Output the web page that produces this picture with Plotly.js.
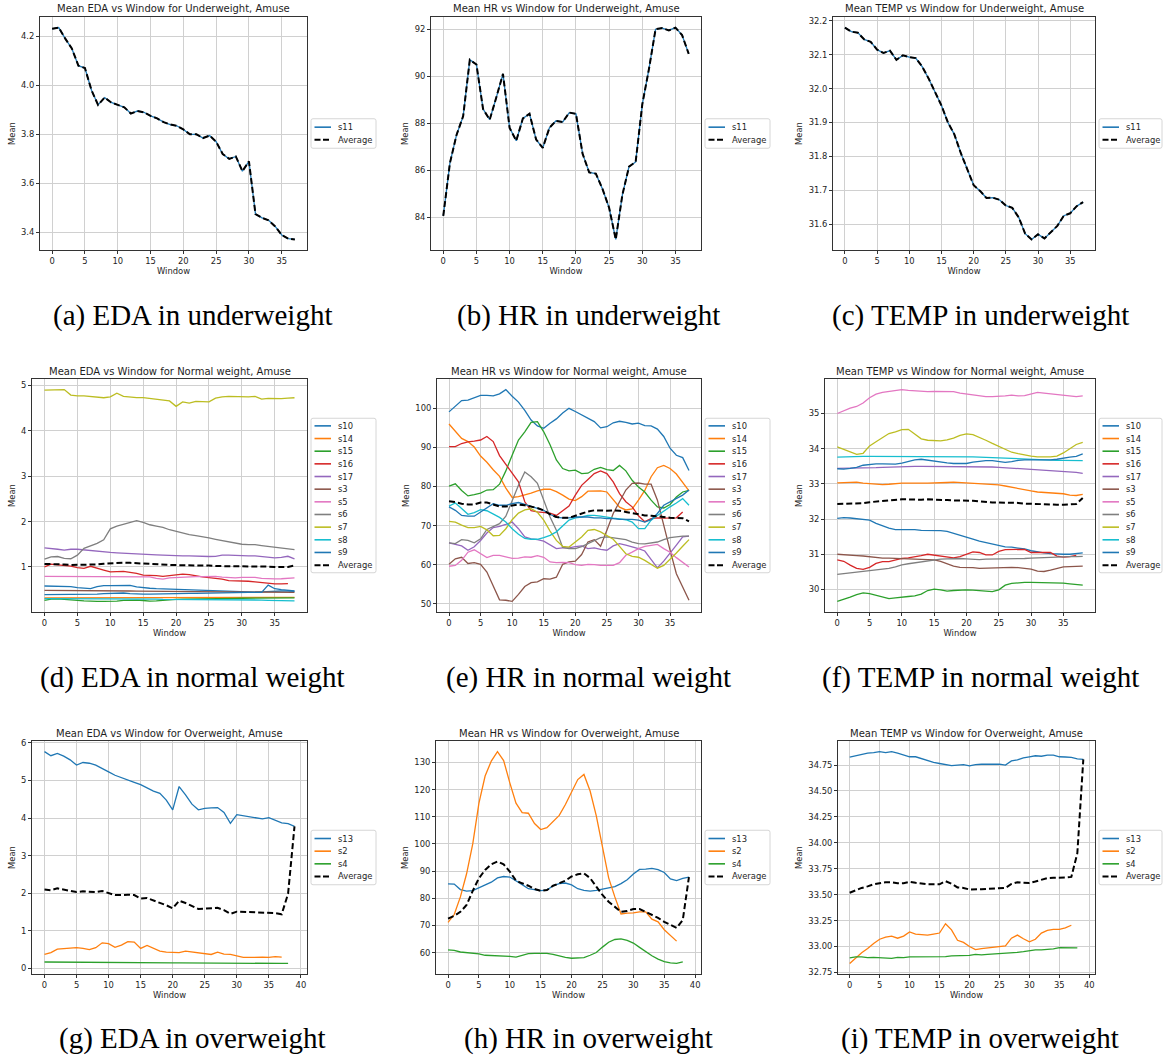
<!DOCTYPE html>
<html>
<head>
<meta charset="utf-8">
<script src="https://cdn.plot.ly/plotly-3.0.1.min.js"></script>
<style>
  html, body { margin: 0; padding: 0; background: #ffffff; }
  #chart { width: 1163px; height: 1056px; }
</style>
</head>
<body>
<div id="chart"></div>
<script>
// ---------- Underweight (Amuse) ----------
const uwEdaS11 = [4.23,4.235,4.19,4.15,4.08,4.07,3.98,3.92,3.95,3.93,3.92,3.91,3.885,3.895,3.89,3.875,3.865,3.85,3.84,3.835,3.82,3.80,3.80,3.785,3.795,3.77,3.72,3.70,3.71,3.65,3.69,3.475,3.46,3.45,3.425,3.39,3.375,3.372];
const uwEdaAvg = [4.23,4.235,4.19,4.15,4.08,4.07,3.98,3.92,3.95,3.93,3.92,3.91,3.885,3.895,3.89,3.875,3.865,3.85,3.84,3.835,3.82,3.80,3.80,3.785,3.795,3.77,3.72,3.70,3.71,3.65,3.69,3.475,3.46,3.45,3.425,3.39,3.375,3.372];

const uwHrS11 = [84.05,86.3,87.5,88.3,90.7,90.5,88.6,88.15,89.1,90.1,87.8,87.25,88.2,88.4,87.3,86.95,87.8,88.1,88.05,88.45,88.4,86.7,85.9,85.85,85.2,84.4,83.05,84.95,86.15,86.35,88.8,90.3,92.0,92.05,91.95,92.07,91.75,90.95];
const uwHrAvg = [84.05,86.3,87.5,88.3,90.7,90.5,88.6,88.15,89.1,90.1,87.8,87.25,88.2,88.4,87.3,86.95,87.8,88.1,88.05,88.45,88.4,86.7,85.9,85.85,85.2,84.4,83.05,84.95,86.15,86.35,88.8,90.3,92.0,92.05,91.95,92.07,91.75,90.95];

const uwTempS11 = [32.18,32.168,32.165,32.145,32.138,32.115,32.105,32.112,32.085,32.098,32.093,32.09,32.065,32.03,31.99,31.95,31.90,31.865,31.81,31.76,31.715,31.698,31.677,31.678,31.672,31.655,31.648,31.62,31.572,31.555,31.57,31.558,31.578,31.595,31.625,31.632,31.653,31.665];
const uwTempAvg = [32.18,32.168,32.165,32.145,32.138,32.115,32.105,32.112,32.085,32.098,32.093,32.09,32.065,32.03,31.99,31.95,31.90,31.865,31.81,31.76,31.715,31.698,31.677,31.678,31.672,31.655,31.648,31.62,31.572,31.555,31.57,31.558,31.578,31.595,31.625,31.632,31.653,31.665];

// ---------- Normal weight (Amuse): EDA ----------
const nwEdaS10 = [0.58,0.575,0.58,0.575,0.565,0.545,0.54,0.52,0.565,0.59,0.59,0.59,0.59,0.595,0.56,0.54,0.53,0.52,0.515,0.51,0.50,0.49,0.485,0.485,0.48,0.47,0.465,0.465,0.455,0.45,0.45,0.445,0.445,0.45,0.46,0.47,0.47,0.465,0.46];
const nwEdaS14 = [0.32,0.32,0.321,0.32,0.32,0.321,0.322,0.322,0.321,0.32,0.32,0.321,0.322,0.323,0.323,0.322,0.322,0.323,0.324,0.324,0.325,0.325,0.325,0.326,0.326,0.326,0.327,0.327,0.327,0.328,0.328,0.328,0.329,0.329,0.33,0.33,0.33,0.33,0.33];
const nwEdaS15 = [0.265,0.29,0.295,0.29,0.285,0.265,0.25,0.24,0.24,0.24,0.24,0.245,0.265,0.27,0.27,0.26,0.245,0.25,0.265,0.28,0.285,0.29,0.29,0.295,0.295,0.30,0.30,0.30,0.305,0.305,0.31,0.31,0.31,0.315,0.315,0.32,0.32,0.32,0.32];
const nwEdaS16 = [1.0,1.06,1.045,1.03,1.02,0.985,0.97,1.015,0.98,0.93,0.89,0.89,0.90,0.88,0.86,0.82,0.82,0.81,0.79,0.81,0.825,0.84,0.83,0.80,0.78,0.765,0.75,0.73,0.70,0.70,0.69,0.685,0.67,0.65,0.63,0.625,0.625,0.63];
const nwEdaS17 = [1.42,1.41,1.39,1.37,1.39,1.39,1.375,1.35,1.34,1.32,1.32,1.31,1.30,1.29,1.29,1.28,1.27,1.265,1.26,1.25,1.25,1.245,1.245,1.235,1.235,1.23,1.235,1.26,1.26,1.25,1.25,1.245,1.245,1.23,1.21,1.20,1.21,1.235,1.18];
const nwEdaS3  = [0.485,0.485,0.484,0.483,0.482,0.48,0.479,0.478,0.477,0.476,0.475,0.474,0.471,0.47,0.468,0.467,0.466,0.464,0.463,0.462,0.461,0.46,0.459,0.458,0.457,0.456,0.455,0.454,0.452,0.451,0.45,0.449,0.448,0.447,0.446,0.445,0.444,0.442,0.44];
const nwEdaS5  = [0.79,0.79,0.78,0.78,0.78,0.79,0.785,0.785,0.785,0.785,0.785,0.785,0.785,0.785,0.78,0.78,0.78,0.75,0.73,0.76,0.77,0.78,0.79,0.785,0.785,0.79,0.79,0.775,0.76,0.76,0.77,0.77,0.77,0.75,0.735,0.735,0.74,0.75,0.76];
const nwEdaS6  = [1.17,1.22,1.23,1.19,1.18,1.26,1.41,1.46,1.52,1.60,1.84,1.90,1.94,1.98,2.02,1.98,1.93,1.90,1.87,1.82,1.78,1.74,1.71,1.69,1.67,1.64,1.61,1.58,1.55,1.53,1.50,1.49,1.49,1.47,1.45,1.43,1.42,1.40,1.38];
const nwEdaS7  = [4.9,4.9,4.9,4.91,4.79,4.77,4.77,4.755,4.75,4.73,4.75,4.83,4.76,4.74,4.735,4.735,4.72,4.70,4.69,4.66,4.54,4.64,4.61,4.65,4.645,4.64,4.72,4.75,4.76,4.755,4.74,4.75,4.76,4.70,4.715,4.71,4.71,4.72,4.73];
const nwEdaS8  = [0.30,0.30,0.305,0.305,0.30,0.30,0.30,0.30,0.295,0.295,0.295,0.295,0.29,0.29,0.29,0.29,0.29,0.29,0.285,0.285,0.285,0.285,0.285,0.28,0.28,0.28,0.28,0.28,0.275,0.275,0.275,0.275,0.27,0.27,0.265,0.26,0.26,0.255,0.25];
const nwEdaS9  = [0.39,0.39,0.39,0.39,0.39,0.39,0.39,0.395,0.40,0.41,0.42,0.42,0.425,0.41,0.40,0.40,0.40,0.405,0.405,0.41,0.41,0.41,0.415,0.415,0.42,0.425,0.43,0.43,0.435,0.44,0.44,0.44,0.44,0.44,0.60,0.52,0.50,0.48,0.47];
const nwEdaAvg = [1.066,1.066,1.06,1.055,1.045,1.045,1.05,1.055,1.055,1.07,1.08,1.095,1.095,1.09,1.08,1.07,1.065,1.06,1.055,1.045,1.04,1.04,1.04,1.03,1.03,1.03,1.02,1.02,1.02,1.02,1.02,1.015,1.015,1.007,1.007,1.0,1.0,1.0,1.03];

// ---------- Normal weight (Amuse): HR ----------
const nwHrS10 = [99.1,100.5,102.0,102.1,102.7,103.3,103.3,103.2,103.7,104.8,103.1,101.6,99.5,97.0,95.5,94.9,96.2,97.3,98.8,100.0,99.2,98.3,97.5,96.6,95.0,95.3,96.3,96.7,96.4,96.0,96.2,95.6,95.5,94.7,92.8,89.8,88.0,87.4,84.1];
const nwHrS14 = [96.0,94.0,92.3,91.5,90.1,87.8,86.2,84.3,82.6,79.6,77.2,77.4,77.8,78.3,78.9,79.3,79.3,78.7,77.8,76.8,76.4,77.4,78.8,78.9,78.9,78.6,76.5,74.7,74.0,74.3,76.5,79.0,82.5,84.8,85.4,84.6,83.2,81.2,78.9];
const nwHrS15 = [80.1,80.7,79.0,77.6,77.9,78.3,79.1,79.2,80.6,84.0,88.0,91.9,94.0,96.4,96.6,94.0,90.7,86.8,84.6,84.0,84.2,83.3,83.4,84.4,84.9,84.3,84.1,85.4,84.0,81.6,79.9,78.6,76.5,74.8,74.5,75.4,77.3,78.6,79.0];
const nwHrS16 = [90.2,90.2,91.0,91.4,91.6,91.9,92.8,91.5,87.9,85.6,83.6,81.2,76.1,73.8,73.5,73.4,73.2,72.6,73.9,75.0,77.8,80.3,81.8,83.3,84.0,83.3,81.2,78.2,76.1,74.8,72.5,71.0,71.8,72.0,71.9,71.9,72.0,73.5];
const nwHrS17 = [65.6,65.2,64.8,63.7,64.6,66.2,68.1,69.5,69.8,70.3,70.9,69.2,67.1,66.6,66.4,66.0,65.1,64.1,64.3,64.3,64.6,64.8,64.1,64.3,63.9,63.7,64.8,65.4,65.0,64.6,64.1,63.5,61.5,59.2,60.9,62.8,65.0,67.1,67.3];
const nwHrS3  = [60.1,61.5,61.9,60.3,60.5,60.1,58.1,54.7,51.0,50.9,50.6,52.4,54.4,55.4,55.6,56.4,56.3,56.8,60.1,60.7,60.9,62.6,65.8,66.4,64.7,68.8,73.1,76.1,79.1,80.8,80.9,80.6,80.6,76.5,69.7,63.7,57.7,54.3,50.9];
const nwHrS5  = [59.6,59.8,61.1,63.2,63.8,62.8,61.8,62.4,62.4,62.0,61.6,61.7,62.0,61.9,62.3,61.9,60.7,60.5,60.6,60.5,60.0,59.8,60.1,60.0,59.8,59.8,59.8,60.5,62.4,63.2,64.1,64.7,65.0,65.2,64.1,63.2,61.8,60.5,59.4];
const nwHrS6  = [65.6,65.4,66.4,66.2,65.6,66.6,69.0,69.8,70.5,72.4,76.5,80.3,83.7,82.5,80.8,76.5,72.2,68.8,64.4,64.1,64.1,64.6,65.4,66.0,66.9,67.1,66.9,66.7,66.4,65.8,65.4,65.3,65.6,65.8,66.4,66.9,67.1,67.3,67.3];
const nwHrS7  = [71.1,70.9,70.1,69.5,69.5,69.8,68.9,67.4,67.5,69.2,71.5,73.2,74.0,74.3,73.4,71.4,68.6,66.2,64.7,64.5,65.8,67.1,68.8,69.0,68.4,67.5,66.5,64.7,62.8,62.1,61.9,61.1,60.2,59.1,59.8,61.3,63.0,64.7,66.4];
const nwHrS8  = [75.0,75.8,74.4,72.9,73.3,74.1,73.8,72.9,72.1,70.9,69.2,67.8,66.7,66.5,66.5,66.9,67.5,68.4,69.8,71.4,72.0,72.2,72.6,72.6,72.4,72.1,71.9,71.7,71.5,70.9,69.2,69.2,71.4,72.6,73.8,74.8,75.8,76.9,75.2];
const nwHrS9  = [74.8,73.9,72.6,72.4,72.4,73.5,74.4,75.6,75.2,75.2,75.6,75.9,75.4,74.9,74.5,73.9,72.9,72.1,72.0,72.0,72.2,72.2,72.2,72.0,72.0,71.8,71.8,71.6,71.6,71.6,71.4,70.9,71.5,73.1,75.2,76.1,77.0,77.8,79.1];
const nwHrAvg = [76.2,76.0,75.6,75.4,75.4,75.9,75.9,75.4,74.9,74.9,75.2,75.4,75.2,74.9,74.5,73.9,72.9,72.2,72.0,72.0,72.6,73.2,73.6,73.9,73.8,73.8,73.9,73.8,73.5,73.2,72.9,72.6,72.5,72.4,72.2,72.0,72.0,71.9,71.1];

// ---------- Normal weight (Amuse): TEMP ----------
const nwTempS10 = [32.02,32.04,32.03,32.01,32.0,31.97,31.88,31.8,31.74,31.7,31.7,31.72,31.7,31.68,31.68,31.68,31.67,31.65,31.6,31.54,31.49,31.43,31.37,31.33,31.29,31.24,31.21,31.2,31.18,31.15,31.1,31.06,31.04,31.02,31.0,31.0,31.0,31.01,31.04];
const nwTempS14 = [33.03,33.03,33.04,33.05,33.02,33.0,32.98,32.98,32.99,33.01,33.02,33.02,33.01,33.02,33.02,33.02,33.03,33.04,33.05,33.04,33.02,33.01,33.01,33.0,32.99,32.97,32.94,32.9,32.86,32.83,32.8,32.77,32.76,32.76,32.75,32.72,32.68,32.67,32.7];
const nwTempS15 = [29.66,29.71,29.78,29.85,29.9,29.88,29.83,29.77,29.74,29.76,29.79,29.8,29.82,29.87,29.97,30.01,29.99,29.95,29.97,29.99,29.99,29.98,29.96,29.95,29.94,29.99,30.12,30.17,30.19,30.2,30.2,30.2,30.19,30.19,30.18,30.18,30.16,30.14,30.12];
const nwTempS16 = [30.84,30.8,30.69,30.6,30.57,30.63,30.74,30.79,30.79,30.84,30.88,30.9,30.92,30.96,31.0,30.98,30.96,30.93,30.9,30.93,30.99,31.07,31.05,30.98,30.98,31.08,31.13,31.14,31.15,31.14,31.05,31.05,31.06,31.05,30.95,30.92,30.93,30.97];
const nwTempS17 = [33.44,33.44,33.44,33.45,33.45,33.46,33.46,33.47,33.48,33.49,33.5,33.5,33.5,33.5,33.5,33.5,33.5,33.5,33.5,33.5,33.5,33.49,33.49,33.48,33.48,33.47,33.46,33.44,33.42,33.41,33.4,33.4,33.4,33.39,33.38,33.36,33.35,33.33,33.3];
const nwTempS3  = [31.0,30.98,30.96,30.96,30.95,30.93,30.9,30.89,30.89,30.88,30.88,30.88,30.87,30.86,30.85,30.84,30.8,30.73,30.66,30.63,30.63,30.62,30.6,30.61,30.62,30.62,30.63,30.63,30.62,30.6,30.58,30.52,30.51,30.55,30.6,30.64,30.65,30.65,30.66];
const nwTempS5  = [35.0,35.08,35.15,35.2,35.3,35.45,35.55,35.6,35.62,35.65,35.68,35.66,35.64,35.62,35.62,35.63,35.63,35.63,35.62,35.58,35.55,35.53,35.5,35.48,35.48,35.48,35.5,35.52,35.5,35.51,35.56,35.6,35.58,35.56,35.52,35.52,35.5,35.48,35.5];
const nwTempS6  = [30.43,30.45,30.48,30.5,30.52,30.54,30.56,30.57,30.6,30.64,30.7,30.73,30.76,30.79,30.82,30.84,30.86,30.87,30.88,30.88,30.87,30.85,30.85,30.86,30.86,30.87,30.87,30.88,30.88,30.88,30.89,30.9,30.91,30.91,30.92,30.92,30.93,30.93,30.94];
const nwTempS7  = [34.05,33.98,33.9,33.84,33.87,34.08,34.2,34.32,34.43,34.48,34.54,34.55,34.42,34.28,34.24,34.22,34.22,34.25,34.3,34.38,34.42,34.4,34.33,34.24,34.15,34.06,33.97,33.9,33.86,33.82,33.79,33.77,33.76,33.77,33.79,33.88,34.0,34.12,34.18];
const nwTempS8  = [33.76,33.77,33.77,33.77,33.78,33.78,33.78,33.78,33.78,33.78,33.78,33.78,33.79,33.79,33.79,33.79,33.79,33.78,33.78,33.78,33.77,33.77,33.76,33.76,33.75,33.74,33.73,33.72,33.71,33.7,33.69,33.69,33.68,33.68,33.67,33.67,33.67,33.66,33.66];
const nwTempS9  = [33.43,33.42,33.44,33.47,33.53,33.56,33.57,33.57,33.57,33.56,33.59,33.64,33.68,33.7,33.67,33.64,33.62,33.6,33.58,33.57,33.58,33.62,33.65,33.66,33.66,33.64,33.61,33.63,33.67,33.68,33.68,33.67,33.67,33.68,33.7,33.74,33.76,33.78,33.85];
const nwTempAvg = [32.43,32.43,32.43,32.43,32.45,32.48,32.5,32.51,32.52,32.54,32.56,32.56,32.55,32.55,32.56,32.56,32.55,32.54,32.53,32.53,32.53,32.52,32.5,32.48,32.47,32.47,32.47,32.46,32.46,32.44,32.43,32.42,32.41,32.41,32.41,32.41,32.41,32.43,32.6];

// ---------- Overweight (Amuse) ----------
const owEdaS13 = [5.77,5.66,5.72,5.65,5.55,5.41,5.48,5.46,5.41,5.33,5.23,5.14,5.07,5.01,4.95,4.89,4.8,4.72,4.66,4.48,4.22,4.84,4.62,4.37,4.22,4.26,4.27,4.28,4.15,3.86,4.09,4.06,4.05,4.01,3.98,4.01,3.95,3.87,3.85,3.78];
const owEdaS2  = [0.37,0.42,0.51,0.52,0.54,0.55,0.53,0.5,0.55,0.68,0.66,0.56,0.62,0.71,0.7,0.53,0.61,0.53,0.46,0.43,0.42,0.42,0.46,0.44,0.41,0.38,0.37,0.43,0.38,0.37,0.32,0.29,0.29,0.3,0.3,0.29,0.31,0.3];
const owEdaS4  = [0.17,0.168,0.167,0.165,0.163,0.163,0.161,0.159,0.158,0.157,0.156,0.156,0.154,0.153,0.152,0.151,0.151,0.149,0.148,0.147,0.146,0.146,0.144,0.143,0.141,0.14,0.14,0.138,0.137,0.136,0.136,0.135,0.135,0.134,0.134,0.133,0.133,0.132,0.132];
const owEdaAvg = [2.1,2.08,2.13,2.1,2.08,2.03,2.05,2.03,2.03,2.06,2.01,1.95,1.95,1.96,1.95,1.86,1.87,1.81,1.75,1.68,1.6,1.8,1.74,1.65,1.58,1.59,1.59,1.61,1.55,1.45,1.51,1.5,1.49,1.48,1.47,1.48,1.47,1.44,1.99,3.78];

const owHrS13 = [85.3,85.2,83.2,82.6,82.8,83.8,84.6,85.9,87.5,88.0,87.8,86.5,85.0,83.5,83.2,82.8,83.0,84.6,85.4,85.6,84.9,83.5,82.9,82.6,82.9,83.4,83.8,84.3,85.4,86.8,88.9,90.6,90.7,91.0,90.5,89.5,87.1,86.5,87.3,87.8];
const owHrS2  = [71.1,74.0,80.5,89.0,100.0,115.0,125.0,130.5,134.0,130.7,122.5,115.0,111.5,111.3,107.5,105.3,106.0,108.3,110.5,114.5,119.0,123.7,125.6,119.5,110.3,99.0,87.5,80.5,74.2,74.5,74.6,75.0,75.0,72.3,71.3,68.4,66.4,64.2];
const owHrS4  = [61.0,60.8,60.2,60.0,59.9,59.5,59.0,58.9,58.9,58.8,58.6,58.3,59.0,59.6,59.7,59.8,59.7,59.3,58.7,58.2,57.9,57.9,58.1,59.0,60.0,62.0,63.8,64.8,65.0,64.5,63.5,61.9,60.3,58.8,57.6,56.7,56.2,56.0,56.6];
const owHrAvg = [72.5,73.5,75.0,77.5,82.7,87.4,90.4,92.5,93.5,92.5,89.8,86.5,85.5,84.6,83.4,82.7,83.0,84.6,85.5,86.5,88.0,88.8,89.2,87.4,84.3,81.2,78.7,76.9,75.0,75.3,76.0,76.0,75.0,73.8,72.8,71.3,70.1,69.1,72.0,87.8];

const owTempS13 = [34.827,34.84,34.85,34.865,34.87,34.88,34.87,34.88,34.865,34.845,34.83,34.83,34.81,34.79,34.775,34.765,34.755,34.745,34.75,34.755,34.742,34.755,34.758,34.76,34.755,34.76,34.75,34.79,34.8,34.82,34.83,34.84,34.835,34.845,34.845,34.83,34.828,34.825,34.81,34.805];
const owTempS2  = [32.837,32.89,32.94,32.98,33.03,33.07,33.09,33.1,33.08,33.1,33.14,33.12,33.115,33.11,33.12,33.13,33.22,33.16,33.06,33.04,33.0,32.97,32.98,32.985,32.995,33.0,33.005,33.08,33.11,33.075,33.045,33.07,33.13,33.155,33.165,33.165,33.18,33.205];
const owTempS4  = [32.89,32.9,32.9,32.893,32.895,32.893,32.89,32.885,32.895,32.893,32.9,32.9,32.897,32.9,32.897,32.897,32.903,32.91,32.91,32.91,32.915,32.925,32.92,32.925,32.928,32.93,32.935,32.94,32.943,32.95,32.96,32.968,32.968,32.972,32.978,32.99,32.988,32.982,32.987];
const owTempAvg = [33.518,33.545,33.565,33.58,33.6,33.61,33.62,33.62,33.61,33.61,33.625,33.615,33.605,33.6,33.6,33.6,33.63,33.605,33.57,33.565,33.55,33.548,33.552,33.557,33.56,33.565,33.565,33.603,33.62,33.615,33.612,33.627,33.645,33.66,33.663,33.662,33.665,33.671,33.9,34.805];

// Subject labels per weight group
const uwSubjects = ['s11'];
const nwSubjects = ['s10','s14','s15','s16','s17','s3','s5','s6','s7','s8','s9'];
const owSubjects = ['s13','s2','s4'];

// ---------- styling ----------
const W = 1163, H = 1056;
const TAB10 = ['#1f77b4','#ff7f0e','#2ca02c','#d62728','#9467bd','#8c564b','#e377c2','#7f7f7f','#bcbd22','#17becf'];
const TXT = '#1e1e1e';
const SANS = 'DejaVu Sans, sans-serif';
const SERIF = 'Liberation Serif, serif';

// pixel boxes of each plotting area: [left, top, right, bottom]
const panels = [
  { title: 'Mean EDA vs Window for Underweight, Amuse',   caption: '(a) EDA in underweight',   names: uwSubjects, series: [uwEdaS11], avg: uwEdaAvg, box: [40, 17, 307, 250],  dtick: 0.2, fmt: '.1f', cap: [192, 315] },
  { title: 'Mean HR vs Window for Underweight, Amuse',    caption: '(b) HR in underweight',    names: uwSubjects, series: [uwHrS11],  avg: uwHrAvg,  box: [431, 17, 701, 250], dtick: 2,   fmt: '',    cap: [588, 315] },
  { title: 'Mean TEMP vs Window for Underweight, Amuse',  caption: '(c) TEMP in underweight',  names: uwSubjects, series: [uwTempS11], avg: uwTempAvg, box: [833, 17, 1095, 250], dtick: 0.1, fmt: '.1f', cap: [980, 315] },
  { title: 'Mean EDA vs Window for Normal weight, Amuse', caption: '(d) EDA in normal weight', names: nwSubjects,
    series: [nwEdaS10, nwEdaS14, nwEdaS15, nwEdaS16, nwEdaS17, nwEdaS3, nwEdaS5, nwEdaS6, nwEdaS7, nwEdaS8, nwEdaS9], avg: nwEdaAvg, box: [32, 379, 307, 612], dtick: 1, fmt: '', cap: [192, 677] },
  { title: 'Mean HR vs Window for Normal weight, Amuse',  caption: '(e) HR in normal weight',  names: nwSubjects,
    series: [nwHrS10, nwHrS14, nwHrS15, nwHrS16, nwHrS17, nwHrS3, nwHrS5, nwHrS6, nwHrS7, nwHrS8, nwHrS9], avg: nwHrAvg, box: [437, 379, 701, 612], dtick: 10, fmt: '', cap: [588, 677] },
  { title: 'Mean TEMP vs Window for Normal weight, Amuse', caption: '(f) TEMP in normal weight', names: nwSubjects,
    series: [nwTempS10, nwTempS14, nwTempS15, nwTempS16, nwTempS17, nwTempS3, nwTempS5, nwTempS6, nwTempS7, nwTempS8, nwTempS9], avg: nwTempAvg, box: [825, 379, 1095, 612], dtick: 1, fmt: '', cap: [980, 677] },
  { title: 'Mean EDA vs Window for Overweight, Amuse',    caption: '(g) EDA in overweight',    names: owSubjects, series: [owEdaS13, owEdaS2, owEdaS4], avg: owEdaAvg, box: [32, 741, 307, 974], dtick: 1, fmt: '', cap: [192, 1038] },
  { title: 'Mean HR vs Window for Overweight, Amuse',     caption: '(h) HR in overweight',     names: owSubjects, series: [owHrS13, owHrS2, owHrS4], avg: owHrAvg, box: [436, 741, 701, 974], dtick: 10, fmt: '', cap: [588, 1038] },
  { title: 'Mean TEMP vs Window for Overweight, Amuse',   caption: '(i) TEMP in overweight',   names: owSubjects, series: [owTempS13, owTempS2, owTempS4], avg: owTempAvg, box: [838, 741, 1095, 974], dtick: 0.25, fmt: '.2f', cap: [980, 1038] }
];

const px = v => v / W;          // horizontal pixel -> paper
const py = v => 1 - v / H;      // vertical pixel -> paper

const traces = [];
const shapes = [];
const annotations = [];
const layout = {
  width: W, height: H,
  margin: { l: 0, r: 0, t: 0, b: 0, pad: 0 },
  paper_bgcolor: '#ffffff', plot_bgcolor: '#ffffff',
  font: { family: SANS, size: 8.4, color: TXT },
  showlegend: false
};

function padded(lo, hi) {
  const d = hi - lo;
  return [lo - 0.05 * d, hi + 0.05 * d];
}

panels.forEach((p, k) => {
  const idx = k === 0 ? '' : String(k + 1);
  const xa = 'x' + idx, ya = 'y' + idx;
  const [L, T, R, B] = p.box;

  const all = p.series.concat([p.avg]);
  let lo = Infinity, hi = -Infinity, nMax = 0;
  all.forEach(s => { s.forEach(v => { lo = Math.min(lo, v); hi = Math.max(hi, v); }); nMax = Math.max(nMax, s.length - 1); });

  // subject lines
  p.series.forEach((s, i) => {
    traces.push({
      type: 'scatter', mode: 'lines', name: p.names[i],
      x: s.map((_, j) => j), y: s,
      xaxis: xa, yaxis: ya,
      line: { color: TAB10[i % 10], width: 1.3 },
      hoverinfo: 'skip'
    });
  });
  // group average on top
  traces.push({
    type: 'scatter', mode: 'lines', name: 'Average',
    x: p.avg.map((_, j) => j), y: p.avg,
    xaxis: xa, yaxis: ya,
    line: { color: '#000000', width: 2, dash: '6px,3px' },
    hoverinfo: 'skip'
  });

  const common = {
    showline: true, mirror: true, linecolor: '#333333', linewidth: 1,
    showgrid: true, gridcolor: '#d0d0d0', gridwidth: 1,
    zeroline: false, ticks: 'outside', ticklen: 3, tickwidth: 1, tickcolor: '#333333',
    tickfont: { family: SANS, size: 8.4, color: TXT },
    automargin: false, fixedrange: true
  };
  layout['xaxis' + idx] = Object.assign({}, common, {
    domain: [px(L), px(R)], anchor: ya,
    range: [-0.05 * nMax, 1.05 * nMax],
    tick0: 0, dtick: 5,
    title: { text: 'Window', font: { family: SANS, size: 8.4, color: TXT }, standoff: 3 }
  });
  layout['yaxis' + idx] = Object.assign({}, common, {
    domain: [py(B), py(T)], anchor: xa,
    range: padded(lo, hi),
    tick0: 0, dtick: p.dtick, tickformat: p.fmt,
    title: { text: 'Mean', font: { family: SANS, size: 8.4, color: TXT }, standoff: 4 }
  });

  // panel title
  annotations.push({
    xref: 'paper', yref: 'paper', x: px((L + R) / 2), y: py(T - 0.5),
    xanchor: 'center', yanchor: 'bottom', showarrow: false,
    text: p.title, font: { family: SANS, size: 10, color: TXT }
  });
  // sub-figure caption
  annotations.push({
    xref: 'paper', yref: 'paper', x: px(p.cap[0]), y: py(p.cap[1]),
    xanchor: 'center', yanchor: 'middle', showarrow: false,
    text: p.caption, font: { family: SERIF, size: 29, color: '#000000' }
  });

  // legend box to the right of the plotting area
  const labels = p.names.concat(['Average']);
  const n = labels.length;
  const lx0 = R + 4, lx1 = Math.min(R + 69, W - 1);
  const cy = (T + B) / 2;
  const lh = 12.5 * n + 4.5;
  const ly0 = cy - lh / 2, ly1 = cy + lh / 2;
  const r = 2;
  const path = [
    'M', px(lx0 + r), py(ly0), 'L', px(lx1 - r), py(ly0),
    'Q', px(lx1), py(ly0), px(lx1), py(ly0 + r),
    'L', px(lx1), py(ly1 - r),
    'Q', px(lx1), py(ly1), px(lx1 - r), py(ly1),
    'L', px(lx0 + r), py(ly1),
    'Q', px(lx0), py(ly1), px(lx0), py(ly1 - r),
    'L', px(lx0), py(ly0 + r),
    'Q', px(lx0), py(ly0), px(lx0 + r), py(ly0), 'Z'
  ].join(' ');
  shapes.push({
    type: 'path', xref: 'paper', yref: 'paper', path: path,
    line: { color: '#d6d6d6', width: 1 }, fillcolor: 'rgba(255,255,255,0.9)', layer: 'above'
  });
  labels.forEach((lab, i) => {
    const yy = cy + (i - (n - 1) / 2) * 12.66;
    const isAvg = i === n - 1;
    shapes.push({
      type: 'line', xref: 'paper', yref: 'paper',
      x0: px(lx0 + 3.5), x1: px(lx0 + 20), y0: py(yy), y1: py(yy),
      line: isAvg ? { color: '#000000', width: 2, dash: '6px,2.5px' } : { color: TAB10[i % 10], width: 1.6 },
      layer: 'above'
    });
    annotations.push({
      xref: 'paper', yref: 'paper', x: px(lx0 + 25), y: py(yy),
      xanchor: 'left', yanchor: 'middle', showarrow: false,
      text: lab, font: { family: SANS, size: 8.4, color: TXT }
    });
  });
});

layout.shapes = shapes;
layout.annotations = annotations;

Plotly.newPlot('chart', traces, layout, { staticPlot: true, displayModeBar: false });
</script>
</body>
</html>
